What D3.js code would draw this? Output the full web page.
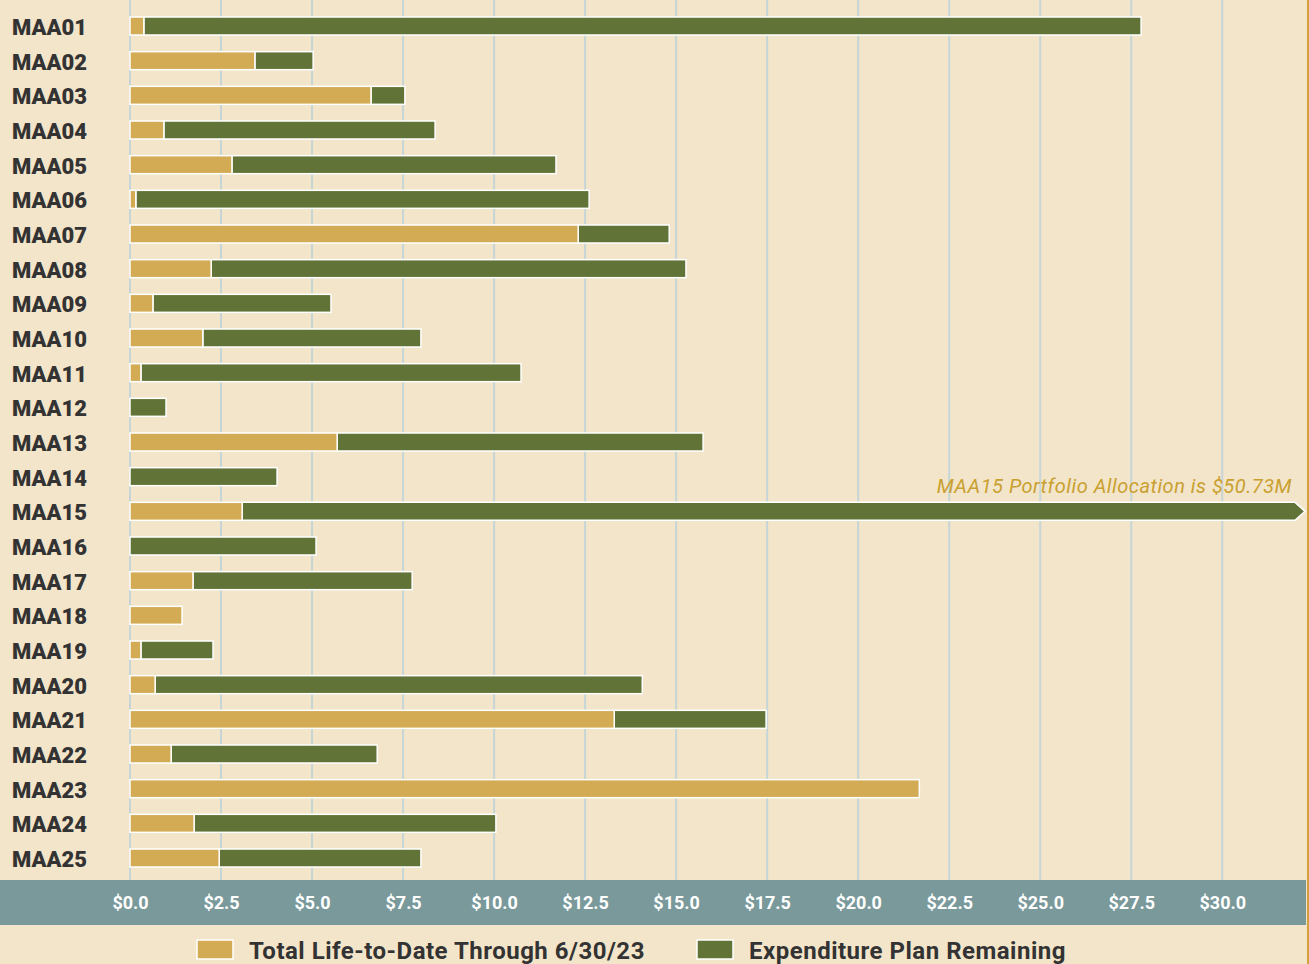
<!DOCTYPE html>
<html><head><meta charset="utf-8">
<script src="https://cdn.jsdelivr.net/npm/d3@7"></script>
<style>
html,body{margin:0;padding:0;background:#f3e5ca;}
svg{display:block;}
</style></head>
<body>
<svg id="chart" width="1309" height="964"></svg>
<script>
const categories = ["MAA01","MAA02","MAA03","MAA04","MAA05","MAA06","MAA07","MAA08","MAA09","MAA10","MAA11","MAA12","MAA13","MAA14","MAA15","MAA16","MAA17","MAA18","MAA19","MAA20","MAA21","MAA22","MAA23","MAA24","MAA25"];
const lifeToDate = [0.38,3.43,6.62,0.93,2.80,0.16,12.31,2.23,0.63,2.00,0.30,0,5.69,0,3.08,0,1.73,1.43,0.30,0.69,13.30,1.13,21.68,1.76,2.45];
const totalPlan  = [27.77,5.03,7.55,8.38,11.70,12.61,14.81,15.27,5.52,7.99,10.74,0.99,15.74,4.04,50.73,5.11,7.75,1.43,2.28,14.07,17.47,6.79,21.68,10.05,7.99];
const tickValues = [0,2.5,5,7.5,10,12.5,15,17.5,20,22.5,25,27.5,30];
const seriesNames = ["Total Life-to-Date Through 6/30/23","Expenditure Plan Remaining"];
const annotation = "MAA15 Portfolio Allocation is $50.73M";

const colors = {gold:"#d4ab55", green:"#617337", bg:"#f3e5ca", band:"#7a999b", grid:"#c6d5d6", text:"#333333", note:"#c9a030"};
const svg = d3.select("#chart");
const W = 1309, H = 964;
svg.append("rect").attr("width",W).attr("height",H).attr("fill",colors.bg);

const x = d3.scaleLinear().domain([0, 32.3]).range([130, 1306]);
const y = d3.scalePoint().domain(categories).range([26, 858]);
const barH = 18;
const plotBottom = 880;

// gridlines
svg.append("g").selectAll("line").data(tickValues).join("line")
  .attr("x1", d=>x(d)).attr("x2", d=>x(d))
  .attr("y1", 0).attr("y2", plotBottom)
  .attr("stroke", colors.grid).attr("stroke-width", 2);

const rows = categories.map((c,i)=>({cat:c, ltd:lifeToDate[i], total:totalPlan[i]}));
const maxX = x.range()[1];

const g = svg.append("g");
rows.forEach(r=>{
  const y0 = y(r.cat) - barH/2;
  if (r.total > r.ltd) {
    const xs = x(r.ltd), xe = x(r.total);
    if (xe > maxX) {
      const tip = maxX - 1, body = tip - 10;
      const pts = [[xs,y0],[body,y0],[tip,y0+barH/2],[body,y0+barH],[xs,y0+barH]];
      g.append("path").attr("d", "M"+pts.map(p=>p.join(",")).join("L")+"Z")
        .attr("fill", colors.green).attr("stroke","#fff").attr("stroke-width",1.5);
    } else {
      g.append("rect").attr("x", xs).attr("y", y0).attr("width", xe-xs).attr("height", barH)
        .attr("fill", colors.green).attr("stroke","#fff").attr("stroke-width",1.5);
    }
  }
  if (r.ltd > 0) {
    g.append("rect").attr("x", x(0)).attr("y", y0).attr("width", x(r.ltd)-x(0)).attr("height", barH)
      .attr("fill", colors.gold).attr("stroke","#fff").attr("stroke-width",1.5);
  }
});

// category labels
svg.append("g").selectAll("text").data(categories).join("text")
  .attr("x", 12).attr("y", d=>y(d)+1).attr("dy","0.36em")
  .attr("font-family","Roboto, 'Open Sans', sans-serif").attr("font-weight",900)
  .attr("font-size",22).attr("fill",colors.text).text(d=>d);

// annotation
svg.append("text").attr("x", 1292).attr("y", y("MAA15")-18)
  .attr("text-anchor","end").attr("font-family","Roboto, sans-serif").attr("font-style","italic")
  .attr("font-size",20).attr("letter-spacing",0.5).attr("fill",colors.note).text(annotation);

// axis band
svg.append("rect").attr("x",0).attr("y",plotBottom).attr("width",1306).attr("height",45).attr("fill",colors.band);
const axis = d3.axisBottom(x).tickValues(tickValues).tickFormat(d=>"$"+d.toFixed(1)).tickSize(0).tickPadding(0);
const ax = svg.append("g").attr("transform",`translate(0,${plotBottom})`).call(axis);
ax.select(".domain").remove();
ax.selectAll("text").attr("y", 23).attr("dy","0.36em")
  .attr("font-family","Roboto, sans-serif").attr("font-weight",700).attr("font-size",18).attr("fill","#ffffff");

// right edge line
svg.append("rect").attr("x",1307).attr("y",0).attr("width",2).attr("height",H).attr("fill","#d1a23a");

// legend
const legend = svg.append("g");
const legendItems = [{name:seriesNames[0], color:colors.gold, x:197},{name:seriesNames[1], color:colors.green, x:697}];
legendItems.forEach(it=>{
  legend.append("rect").attr("x",it.x).attr("y",940).attr("width",36).attr("height",19)
    .attr("fill",it.color).attr("stroke","#fff").attr("stroke-width",1.5);
  legend.append("text").attr("x",it.x+52).attr("y",950).attr("dy","0.36em")
    .attr("font-family","Roboto, sans-serif").attr("font-weight",700).attr("font-size",24)
    .attr("letter-spacing",0.5).attr("fill",colors.text).text(it.name);
});
</script>
</body></html>
